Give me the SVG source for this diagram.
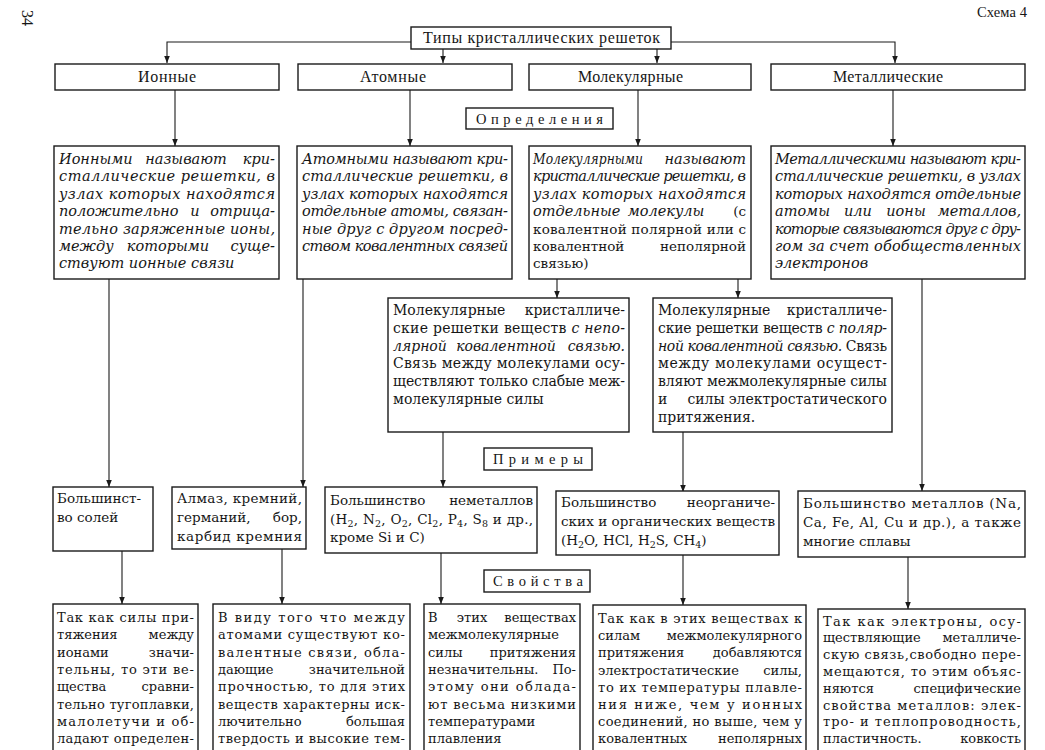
<svg xmlns="http://www.w3.org/2000/svg" width="1045" height="750" viewBox="0 0 1045 750">
<style>
.b{fill:#fff;stroke:#1a1a1a;stroke-width:1.4}
.c{fill:none;stroke:#1a1a1a;stroke-width:1.1}
text{fill:#161616}
.h{font-family:"Liberation Serif",serif;font-size:16px}
.s{font-family:"Liberation Serif",serif;font-size:14.5px}
.di{font-family:"DejaVu Serif",serif;font-size:14.5px;font-style:italic}
.du{font-family:"DejaVu Serif",serif;font-size:13.5px;font-style:normal}
.t{font-family:"DejaVu Serif",serif;font-size:14px}
.r4{font-family:"DejaVu Serif",serif;font-size:13.5px}
.r5{font-family:"DejaVu Serif",serif;font-size:13px}
.e{text-anchor:end}
.m{text-anchor:middle}
.it{font-style:italic}
.sb{font-size:9.5px}
</style>
<defs>
<marker id="a" viewBox="0 0 8 8" refX="8" refY="4" markerWidth="7" markerHeight="7" markerUnits="userSpaceOnUse" orient="auto"><path d="M0,0.8 L8,4 L0,7.2 z" fill="#1a1a1a"/></marker>
</defs>
<rect width="1045" height="750" fill="#fff"/>
<text class="h" x="22" y="10" transform="rotate(90 22 10)" font-size="17">34</text>
<text class="s" x="977" y="17" textLength="50" font-size="12.5">Схема 4</text>

<g id="connectors">
<path class="c" d="M411,42 H167 V63" marker-end="url(#a)"/>
<path class="c" d="M671,42 H895 V63" marker-end="url(#a)"/>
<path class="c" d="M443,49 V63" marker-end="url(#a)"/>
<path class="c" d="M657,49 V63" marker-end="url(#a)"/>
<path class="c" d="M175,90 V146" marker-end="url(#a)"/>
<path class="c" d="M410,90 V146" marker-end="url(#a)"/>
<path class="c" d="M638,90 V146" marker-end="url(#a)"/>
<path class="c" d="M893,90 V146" marker-end="url(#a)"/>
<path class="c" d="M109,279 V487" marker-end="url(#a)"/>
<path class="c" d="M303,279 V487" marker-end="url(#a)"/>
<path class="c" d="M557,279 V298" marker-end="url(#a)"/>
<path class="c" d="M738,279 V298" marker-end="url(#a)"/>
<path class="c" d="M922,279 V491" marker-end="url(#a)"/>
<path class="c" d="M443,432 V487" marker-end="url(#a)"/>
<path class="c" d="M683,432 V492" marker-end="url(#a)"/>
<path class="c" d="M122,551 V604" marker-end="url(#a)"/>
<path class="c" d="M282,549 V604" marker-end="url(#a)"/>
<path class="c" d="M441,553 V604" marker-end="url(#a)"/>
<path class="c" d="M683,555 V605" marker-end="url(#a)"/>
<path class="c" d="M908,557 V609" marker-end="url(#a)"/>
</g>

<g id="title">
<rect class="b" x="411" y="27" width="260" height="22"/>
<text class="h" x="423" y="43" textLength="237" lengthAdjust="spacing">Типы кристаллических решеток</text>
</g>

<g id="type-ionic"><rect class="b" x="55" y="64" width="224" height="26"/><text class="h" x="138" y="82" textLength="58">Ионные</text></g>
<g id="type-atomic"><rect class="b" x="298" y="64" width="214" height="26"/><text class="h" x="360" y="82" textLength="66">Атомные</text></g>
<g id="type-molecular"><rect class="b" x="529" y="64" width="222" height="26"/><text class="h" x="578" y="82" textLength="105">Молекулярные</text></g>
<g id="type-metallic"><rect class="b" x="771" y="64" width="254" height="26"/><text class="h" x="833" y="82" textLength="110">Металлические</text></g>

<g id="label-definitions"><rect class="b" x="466" y="108" width="147" height="21"/><text class="s" x="476" y="124" textLength="127">Определения</text></g>

<g id="def-ionic">
<rect class="b" x="54" y="146" width="225" height="133"/>
<text class="di" x="59" y="164">Ионными</text><text class="di m" x="186" y="164">называют</text><text class="di e" x="275" y="164">кри-</text>
<text class="di" x="59" y="181.4" textLength="216">сталлические решетки, в</text>
<text class="di" x="59" y="198.8" textLength="216">узлах которых находятся</text>
<text class="di" x="59" y="216.2">положительно</text><text class="di m" x="195" y="216.2">и</text><text class="di e" x="275" y="216.2">отрица-</text>
<text class="di" x="59" y="233.6" textLength="216">тельно заряженные ионы,</text>
<text class="di" x="59" y="251">между</text><text class="di m" x="168" y="251">которыми</text><text class="di e" x="275" y="251">суще-</text>
<text class="di" x="59" y="268.4">ствуют ионные связи</text>
</g>

<g id="def-atomic">
<rect class="b" x="297" y="146" width="215" height="133"/>
<text class="di" x="302" y="164" textLength="206">Атомными называют кри-</text>
<text class="di" x="302" y="181.4" textLength="206">сталлические решетки, в</text>
<text class="di" x="302" y="198.8" textLength="206">узлах которых находятся</text>
<text class="di" x="302" y="216.2" textLength="206">отдельные атомы, связан-</text>
<text class="di" x="302" y="233.6" textLength="206">ные друг с другом посред-</text>
<text class="di" x="302" y="251" textLength="206">ством ковалентных связей</text>
</g>

<g id="def-molecular">
<rect class="b" x="529" y="146" width="222" height="133"/>
<text class="di" x="533" y="164" textLength="110" lengthAdjust="spacingAndGlyphs">Молекулярными</text><text class="di e" x="746" y="164">называют</text>
<text class="di" x="533" y="181.4" textLength="213">кристаллические решетки, в</text>
<text class="di" x="533" y="198.8" textLength="213">узлах которых находятся</text>
<text class="di" x="533" y="216.2">отдельные</text><text class="di m" x="666" y="216.2">молекулы</text><text class="du e" x="746" y="216.2">(с</text>
<text class="du" x="533" y="233.6" textLength="213">ковалентной полярной или с</text>
<text class="du" x="533" y="251">ковалентной</text><text class="du e" x="746" y="251">неполярной</text>
<text class="du" x="533" y="268.4">связью)</text>
</g>

<g id="def-metallic">
<rect class="b" x="771" y="146" width="254" height="133"/>
<text class="di" x="775" y="164" textLength="246">Металлическими называют кри-</text>
<text class="di" x="775" y="181.4" textLength="246">сталлические решетки, в узлах</text>
<text class="di" x="775" y="198.8" textLength="246">которых находятся отдельные</text>
<text class="di" x="775" y="216.2">атомы</text><text class="di m" x="858" y="216.2">или</text><text class="di m" x="906" y="216.2">ионы</text><text class="di e" x="1021" y="216.2">металлов,</text>
<text class="di" x="775" y="233.6" textLength="246">которые связываются друг с дру-</text>
<text class="di" x="775" y="251" textLength="246">гом за счет обобществленных</text>
<text class="di" x="775" y="268.4">электронов</text>
</g>

<g id="mol-nonpolar">
<rect class="b" x="388" y="298" width="241" height="134"/>
<text class="t" x="393" y="315">Молекулярные</text><text class="t e" x="625" y="315">кристалличе-</text>
<text class="t" x="393" y="332.8" textLength="232">ские решетки веществ <tspan class="it">с непо-</tspan></text>
<text class="t it" x="393" y="350.6">лярной</text><text class="t it m" x="506" y="350.6">ковалентной</text><text class="t it e" x="625" y="350.6">связью.</text>
<text class="t" x="393" y="368.4" textLength="232">Связь между молекулами осу-</text>
<text class="t" x="393" y="386.2" textLength="232">ществляют только слабые меж-</text>
<text class="t" x="393" y="404">молекулярные силы</text>
</g>

<g id="mol-polar">
<rect class="b" x="653" y="298" width="239" height="134"/>
<text class="t" x="658" y="315">Молекулярные</text><text class="t e" x="887" y="315">кристалличе-</text>
<text class="t" x="658" y="332.8" textLength="229">ские решетки веществ <tspan class="it">с поляр-</tspan></text>
<text class="t" x="658" y="350.6" textLength="229"><tspan class="it">ной ковалентной связью.</tspan> Связь</text>
<text class="t" x="658" y="368.4" textLength="229">между молекулами осущест-</text>
<text class="t" x="658" y="386.2" textLength="229">вляют межмолекулярные силы</text>
<text class="t" x="658" y="404">и</text><text class="t m" x="706" y="404">силы</text><text class="t e" x="887" y="404">электростатического</text>
<text class="t" x="658" y="421.8">притяжения.</text>
</g>

<g id="label-examples"><rect class="b" x="484" y="448" width="108" height="22"/><text class="s" x="493" y="464" textLength="90">Примеры</text></g>

<g id="ex-ionic">
<rect class="b" x="53" y="487" width="100" height="64"/>
<text class="r4" x="57" y="503">Большинст-</text>
<text class="r4" x="57" y="522">во солей</text>
</g>
<g id="ex-atomic">
<rect class="b" x="172" y="487" width="134" height="62"/>
<text class="r4" x="177" y="503" textLength="125">Алмаз, кремний,</text>
<text class="r4" x="177" y="522">германий,</text><text class="r4 e" x="302" y="522">бор,</text>
<text class="r4" x="177" y="541" textLength="125">карбид кремния</text>
</g>
<g id="ex-nonpolar">
<rect class="b" x="325" y="487" width="212" height="66"/>
<text class="r4" x="330" y="505">Большинство</text><text class="r4 e" x="533" y="505">неметаллов</text>
<text class="r4" x="330" y="524" textLength="203">(H<tspan class="sb" dy="3">2</tspan><tspan dy="-3">, N</tspan><tspan class="sb" dy="3">2</tspan><tspan dy="-3">, O</tspan><tspan class="sb" dy="3">2</tspan><tspan dy="-3">, Cl</tspan><tspan class="sb" dy="3">2</tspan><tspan dy="-3">, P</tspan><tspan class="sb" dy="3">4</tspan><tspan dy="-3">, S</tspan><tspan class="sb" dy="3">8</tspan><tspan dy="-3"> и др.,</tspan></text>
<text class="r4" x="330" y="542">кроме Si и C)</text>
</g>
<g id="ex-polar">
<rect class="b" x="556" y="491" width="223" height="64"/>
<text class="r4" x="561" y="507">Большинство</text><text class="r4 e" x="775" y="507">неорганиче-</text>
<text class="r4" x="561" y="526" textLength="214">ских и органических веществ</text>
<text class="r4" x="561" y="545">(H<tspan class="sb" dy="3">2</tspan><tspan dy="-3">O, HCl, H</tspan><tspan class="sb" dy="3">2</tspan><tspan dy="-3">S, CH</tspan><tspan class="sb" dy="3">4</tspan><tspan dy="-3">)</tspan></text>
</g>
<g id="ex-metallic">
<rect class="b" x="798" y="491" width="227" height="66"/>
<text class="r4" x="803" y="508" textLength="218">Большинство металлов (Na,</text>
<text class="r4" x="803" y="527" textLength="218">Ca, Fe, Al, Cu и др.), а также</text>
<text class="r4" x="803" y="546">многие сплавы</text>
</g>

<g id="label-properties"><rect class="b" x="484" y="570" width="106" height="22"/><text class="s" x="493" y="586" textLength="90">Свойства</text></g>

<g id="prop-ionic">
<rect class="b" x="53" y="604" width="145" height="160"/>
<text class="r5" x="57" y="622" textLength="137">Так как силы при-</text>
<text class="r5" x="57" y="639.3">тяжения</text><text class="r5 e" x="194" y="639.3">между</text>
<text class="r5" x="57" y="656.6">ионами</text><text class="r5 e" x="194" y="656.6">значи-</text>
<text class="r5" x="57" y="673.9" textLength="137">тельны, то эти ве-</text>
<text class="r5" x="57" y="691.2">щества</text><text class="r5 e" x="194" y="691.2">сравни-</text>
<text class="r5" x="57" y="708.5" textLength="137">тельно тугоплавки,</text>
<text class="r5" x="57" y="725.8" textLength="137">малолетучи и об-</text>
<text class="r5" x="57" y="743.1" textLength="137">ладают определен-</text>
</g>
<g id="prop-atomic">
<rect class="b" x="213" y="604" width="197" height="160"/>
<text class="r5" x="218" y="622" textLength="187">В виду того что между</text>
<text class="r5" x="218" y="639.3" textLength="187">атомами существуют ко-</text>
<text class="r5" x="218" y="656.6" textLength="187">валентные связи, обла-</text>
<text class="r5" x="218" y="673.9">дающие</text><text class="r5 e" x="405" y="673.9">значительной</text>
<text class="r5" x="218" y="691.2" textLength="187">прочностью, то для этих</text>
<text class="r5" x="218" y="708.5" textLength="187">веществ характерны иск-</text>
<text class="r5" x="218" y="725.8">лючительно</text><text class="r5 e" x="405" y="725.8">большая</text>
<text class="r5" x="218" y="743.1" textLength="187">твердость и высокие тем-</text>
</g>
<g id="prop-nonpolar">
<rect class="b" x="424" y="604" width="156" height="160"/>
<text class="r5" x="428" y="622">В</text><text class="r5 m" x="472" y="622">этих</text><text class="r5 e" x="576" y="622">веществах</text>
<text class="r5" x="428" y="639.3">межмолекулярные</text>
<text class="r5" x="428" y="656.6">силы</text><text class="r5 e" x="576" y="656.6">притяжения</text>
<text class="r5" x="428" y="673.9">незначительны.</text><text class="r5 e" x="576" y="673.9">По-</text>
<text class="r5" x="428" y="691.2" textLength="148">этому они облада-</text>
<text class="r5" x="428" y="708.5" textLength="148">ют весьма низкими</text>
<text class="r5" x="428" y="725.8">температурами</text>
<text class="r5" x="428" y="743.1">плавления</text>
</g>
<g id="prop-polar">
<rect class="b" x="593" y="605" width="213" height="160"/>
<text class="r5" x="598" y="623" textLength="204">Так как в этих веществах к</text>
<text class="r5" x="598" y="640.2">силам</text><text class="r5 e" x="802" y="640.2">межмолекулярного</text>
<text class="r5" x="598" y="657.4">притяжения</text><text class="r5 e" x="802" y="657.4">добавляются</text>
<text class="r5" x="598" y="674.6">электростатические</text><text class="r5 e" x="802" y="674.6">силы,</text>
<text class="r5" x="598" y="691.8" textLength="204">то их температуры плавле-</text>
<text class="r5" x="598" y="709" textLength="204">ния ниже, чем у ионных</text>
<text class="r5" x="598" y="726.2" textLength="204">соединений, но выше, чем у</text>
<text class="r5" x="598" y="743.4">ковалентных</text><text class="r5 e" x="802" y="743.4">неполярных</text>
</g>
<g id="prop-metallic">
<rect class="b" x="818" y="609" width="207" height="160"/>
<text class="r5" x="823" y="625.5" textLength="198">Так как электроны, осу-</text>
<text class="r5" x="823" y="642.3">ществляющие</text><text class="r5 e" x="1021" y="642.3">металличе-</text>
<text class="r5" x="823" y="659.1" textLength="198">скую связь,свободно пере-</text>
<text class="r5" x="823" y="675.9" textLength="198">мещаются, то этим объяс-</text>
<text class="r5" x="823" y="692.7">няются</text><text class="r5 e" x="1021" y="692.7">специфические</text>
<text class="r5" x="823" y="709.5" textLength="198">свойства металлов: элек-</text>
<text class="r5" x="823" y="726.3" textLength="198">тро- и теплопроводность,</text>
<text class="r5" x="823" y="743.1">пластичность.</text><text class="r5 e" x="1021" y="743.1">ковкость</text>
</g>
</svg>
